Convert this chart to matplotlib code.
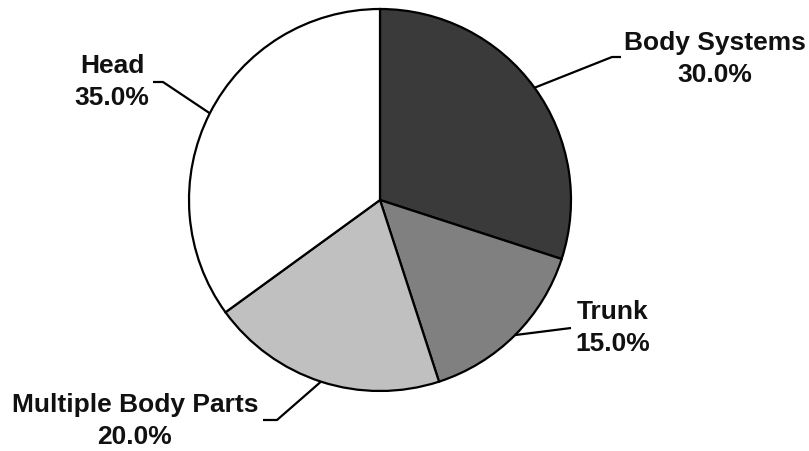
"""Pie chart of injury locations by body part."""

import matplotlib.pyplot as plt
import numpy as np

plt.rcParams.update(
    {
        "font.family": "sans-serif",
        "font.sans-serif": ["Liberation Sans", "DejaVu Sans"],
    }
)

LABELS = ["Body Systems", "Trunk", "Multiple Body Parts", "Head"]
SHARES = [30.0, 15.0, 20.0, 35.0]
COLORS = ["#3a3a3a", "#808080", "#c0c0c0", "#ffffff"]

W, H = 809, 451
CENTER = (380, H - 200)
RADIUS = 191

# label block centre and elbow point of each leader line, in pixel coords (y down)
LABEL_POS = [(715, 59), (613, 328), (135, 421), (112, 82)]
ELBOWS = [((612, 57), (621, 57)), ((571, 328), (571, 328)),
          ((277, 420), (263, 420)), ((163, 82), (153, 82))]

fig = plt.figure(figsize=(W / 100, H / 100), dpi=100)
ax = fig.add_axes([0, 0, 1, 1])

wedges, _ = ax.pie(
    SHARES,
    colors=COLORS,
    startangle=90,
    counterclock=False,
    center=CENTER,
    radius=RADIUS,
    wedgeprops={"edgecolor": "black", "linewidth": 1.6},
    frame=True,
)
ax.set_xlim(0, W)
ax.set_ylim(0, H)
ax.set_aspect("equal")
ax.axis("off")

for wedge, label, share, pos, (elbow, end) in zip(wedges, LABELS, SHARES, LABEL_POS, ELBOWS):
    mid = np.deg2rad((wedge.theta1 + wedge.theta2) / 2)
    start = (CENTER[0] + RADIUS * np.cos(mid), CENTER[1] + RADIUS * np.sin(mid))
    xs = [start[0], elbow[0], end[0]]
    ys = [start[1], H - elbow[1], H - end[1]]
    ax.plot(xs, ys, color="black", linewidth=1.6, solid_capstyle="butt")
    ax.text(pos[0], H - pos[1], f"{label}\n{share:.1f}%", ha="center", va="center",
            fontsize=19, fontweight="bold", color="#111111", linespacing=1.4)

fig.savefig("out.png", dpi=100)
